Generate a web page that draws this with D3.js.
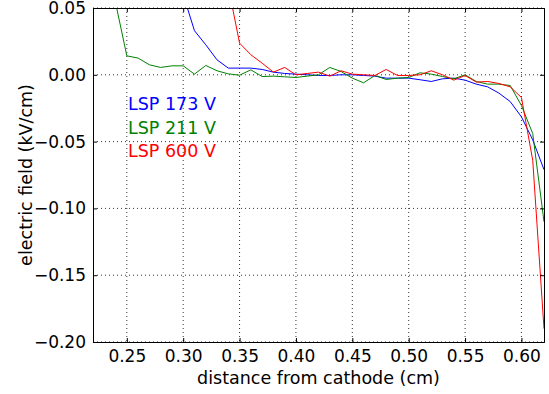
<!DOCTYPE html>
<html>
<head>
<meta charset="utf-8">
<script src="https://cdn.jsdelivr.net/npm/d3@7"></script>
<style>
  body { margin: 0; background: #fff; }
  svg { display: block; font-family: "DejaVu Sans", sans-serif; }
</style>
</head>
<body>
<div id="chart"></div>
<script>
const width = 549;
const height = 394;
const margin = { top: 8, right: 5, bottom: 52, left: 93 };

// distance from cathode (cm), sampled every 0.01
const distance = [0.22, 0.23, 0.24, 0.25, 0.26, 0.27, 0.28, 0.29, 0.30, 0.31,
    0.32, 0.33, 0.34, 0.35, 0.36, 0.37, 0.38, 0.39, 0.40, 0.41,
    0.42, 0.43, 0.44, 0.45, 0.46, 0.47, 0.48, 0.49, 0.50, 0.51,
    0.52, 0.53, 0.54, 0.55, 0.56, 0.57, 0.58, 0.59, 0.60, 0.61, 0.62];

// electric field (kV/cm), null where no point is drawn
const lsp173 = [null, null, null, null, null, null, null, 0.12, 0.06, 0.033,
    0.0225, 0.0112, 0.005, 0.005, 0.005, 0.004, 0.002, 0.001, 0.0005, 0.0,
    -0.0005, -0.0005, 0.0, 0.0, -0.0005, -0.001, -0.0025, -0.0025, -0.0025, -0.0037,
    -0.005, -0.003, -0.0025, -0.004, -0.007, -0.009, -0.0137, -0.02, -0.0315, -0.0487, -0.071];

const lsp211 = [null, 0.09, 0.054, 0.0142, 0.0125, 0.0075, 0.0055, 0.0067, 0.0067, 0.0005,
    0.007, 0.003, 0.0007, -0.0003, 0.0037, -0.0013, -0.001, -0.0015, -0.002, -0.001,
    0.0, 0.0055, 0.0025, -0.0025, -0.006, -0.0005, -0.0035, -0.0025, -0.002, 0.0015,
    0.0005, -0.0013, -0.003, 0.0, -0.005, -0.007, -0.007, -0.008, -0.023, -0.044, -0.11];

const lsp600 = [null, null, null, null, null, null, null, null, null, null,
    null, 0.13, 0.066, 0.0237, 0.015, 0.0087, 0.002, 0.0055, 0.0, 0.001,
    0.002, -0.001, 0.003, 0.0005, 0.0, -0.0005, 0.004, -0.0005, -0.0005, 0.0,
    0.003, 0.0, -0.004, -0.0005, -0.0055, -0.005, -0.0065, -0.009, -0.017, -0.064, -0.19];

const seriesNames = ["LSP 173 V", "LSP 211 V", "LSP 600 V"];
const seriesColors = ["#0000ff", "#008000", "#ff0000"];
const seriesValues = [lsp173, lsp211, lsp600];

const xTicks = [0.25, 0.30, 0.35, 0.40, 0.45, 0.50, 0.55, 0.60];
const yTicks = [0.05, 0.00, -0.05, -0.10, -0.15, -0.20];

const innerW = width - margin.left - margin.right;
const innerH = height - margin.top - margin.bottom;

const x = d3.scaleLinear().domain([0.22, 0.62]).range([0, innerW]);
const y = d3.scaleLinear().domain([-0.20, 0.05]).range([innerH, 0]);

const svg = d3
    .select("#chart")
    .append("svg")
    .attr("width", width)
    .attr("height", height);

const g = svg
    .append("g")
    .attr("transform", `translate(${margin.left},${margin.top})`);

g.append("clipPath")
    .attr("id", "plot-clip")
    .append("rect")
    .attr("width", innerW)
    .attr("height", innerH);

// dotted grid
const grid = g.append("g").attr("stroke", "#000").attr("stroke-width", 0.8)
    .attr("stroke-dasharray", "1,3");
grid.selectAll(".vgrid")
    .data(xTicks)
    .enter()
    .append("line")
    .attr("x1", (d) => x(d))
    .attr("x2", (d) => x(d))
    .attr("y1", 0)
    .attr("y2", innerH);
grid.selectAll(".hgrid")
    .data(yTicks)
    .enter()
    .append("line")
    .attr("x1", 0)
    .attr("x2", innerW)
    .attr("y1", (d) => y(d))
    .attr("y2", (d) => y(d));

// lines
const line = d3
    .line()
    .defined((d) => d[1] !== null)
    .x((d) => x(d[0]))
    .y((d) => y(d[1]));

g.append("g")
    .attr("clip-path", "url(#plot-clip)")
    .selectAll("path")
    .data(seriesValues)
    .enter()
    .append("path")
    .attr("fill", "none")
    .attr("stroke", (d, i) => seriesColors[i])
    .attr("stroke-width", 1)
    .attr("d", (vals) => line(distance.map((xv, i) => [xv, vals[i]])));

// axes with inward ticks on all sides
const fmt = (d) => d3.format(".2f")(d).replace("-", "\u2212");

const axBottom = g.append("g")
    .attr("transform", `translate(0,${innerH})`)
    .call(d3.axisBottom(x).tickValues(xTicks).tickSize(-4).tickPadding(8).tickFormat(fmt));
const axTop = g.append("g")
    .call(d3.axisTop(x).tickValues(xTicks).tickSize(-4).tickFormat(""));
const axLeft = g.append("g")
    .call(d3.axisLeft(y).tickValues(yTicks).tickSize(-4).tickPadding(7).tickFormat(fmt));
const axRight = g.append("g")
    .attr("transform", `translate(${innerW},0)`)
    .call(d3.axisRight(y).tickValues(yTicks).tickSize(-4).tickFormat(""));

[axBottom, axTop, axLeft, axRight].forEach((ax) => {
    ax.select(".domain").attr("stroke", "#000").attr("stroke-width", 1);
    ax.selectAll(".tick line").attr("stroke", "#000");
    ax.selectAll("text")
        .attr("fill", "#000")
        .style("font-size", "17px")
        .style("font-family", "DejaVu Sans");
});

// legend as coloured text
g.selectAll(".legend")
    .data(seriesNames)
    .enter()
    .append("text")
    .attr("x", 35)
    .attr("y", (d, i) => 102 + i * 23.5)
    .attr("fill", (d, i) => seriesColors[i])
    .style("font-size", "17.5px")
    .text((d) => d);

// axis labels
svg.append("text")
    .attr("x", margin.left + innerW / 2)
    .attr("y", 384)
    .attr("text-anchor", "middle")
    .style("font-size", "17.5px")
    .text("distance from cathode (cm)");

svg.append("text")
    .attr("transform", `translate(32,${margin.top + innerH / 2}) rotate(-90)`)
    .attr("text-anchor", "middle")
    .style("font-size", "17.5px")
    .text("electric field (kV/cm)");
</script>
</body>
</html>
